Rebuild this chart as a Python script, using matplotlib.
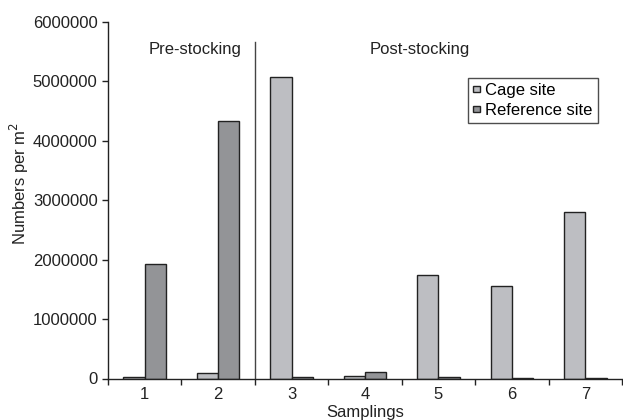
import matplotlib
matplotlib.use("Agg")
import matplotlib.pyplot as plt
import numpy as np

plt.rcParams['font.family'] = ['Liberation Sans', 'DejaVu Sans']

samplings = ['1', '2', '3', '4', '5', '6', '7']
cage = [25000, 100000, 5070000, 50000, 1750000, 1550000, 2810000]
reference = [1920000, 4330000, 20000, 110000, 20000, 15000, 15000]

fig = plt.figure(figsize=(6.23, 4.2), dpi=100)
ax = fig.add_axes([108 / 623, 41.5 / 420, 514 / 623, 356.5 / 420])

x = np.arange(1, len(samplings) + 1)
w = 0.29
ax.bar(x - w / 2, cage, w, color='#bdbec2', edgecolor='#222222', linewidth=1, label='Cage site')
ax.bar(x + w / 2, reference, w, color='#939497', edgecolor='#222222', linewidth=1, label='Reference site')

# pre / post stocking divider
ax.plot([2.5, 2.5], [0, 5660000], color='#444444', linewidth=1)
ax.text(1.685, 5530000, 'Pre-stocking', ha='center', va='center', fontsize=12, color='#222222')
ax.text(4.75, 5530000, 'Post-stocking', ha='center', va='center', fontsize=12, color='#222222')

ax.set_xlim(0.5, 7.5)
ax.set_ylim(0, 6000000)
ax.set_yticks(np.arange(0, 6000001, 1000000))
ax.set_yticklabels([str(v) for v in range(0, 6000001, 1000000)])

ax.set_xticks(np.arange(0.5, 8, 1))
ax.set_xticklabels([])
ax.set_xticks(x, minor=True)
ax.set_xticklabels(samplings, minor=True)
ax.tick_params(axis='both', which='both', labelsize=12, labelcolor='#222222')
ax.tick_params(axis='x', which='minor', length=0, pad=6)
ax.tick_params(axis='x', which='major', length=4, width=1, color='#222222')
ax.tick_params(axis='y', length=4, width=1, color='#222222')

for s in ['top', 'right']:
    ax.spines[s].set_visible(False)
for s in ['left', 'bottom']:
    ax.spines[s].set_color('#222222')
    ax.spines[s].set_linewidth(1)

ax.set_xlabel('Samplings', fontsize=12, color='#222222', labelpad=2)
ax.set_ylabel('Numbers per m$^2$', fontsize=12, color='#222222')
ax.yaxis.set_label_coords(-0.15, 0.548)

leg = ax.legend(loc='upper right', bbox_to_anchor=(0.953, 0.843), fontsize=12,
                frameon=True, fancybox=False, handlelength=0.45, handleheight=0.25,
                handletextpad=0.3, borderpad=0.3, labelspacing=0.3, borderaxespad=0)
leg.get_frame().set_edgecolor('#222222')
leg.get_frame().set_linewidth(1)

fig.savefig('out.png', dpi=100)
